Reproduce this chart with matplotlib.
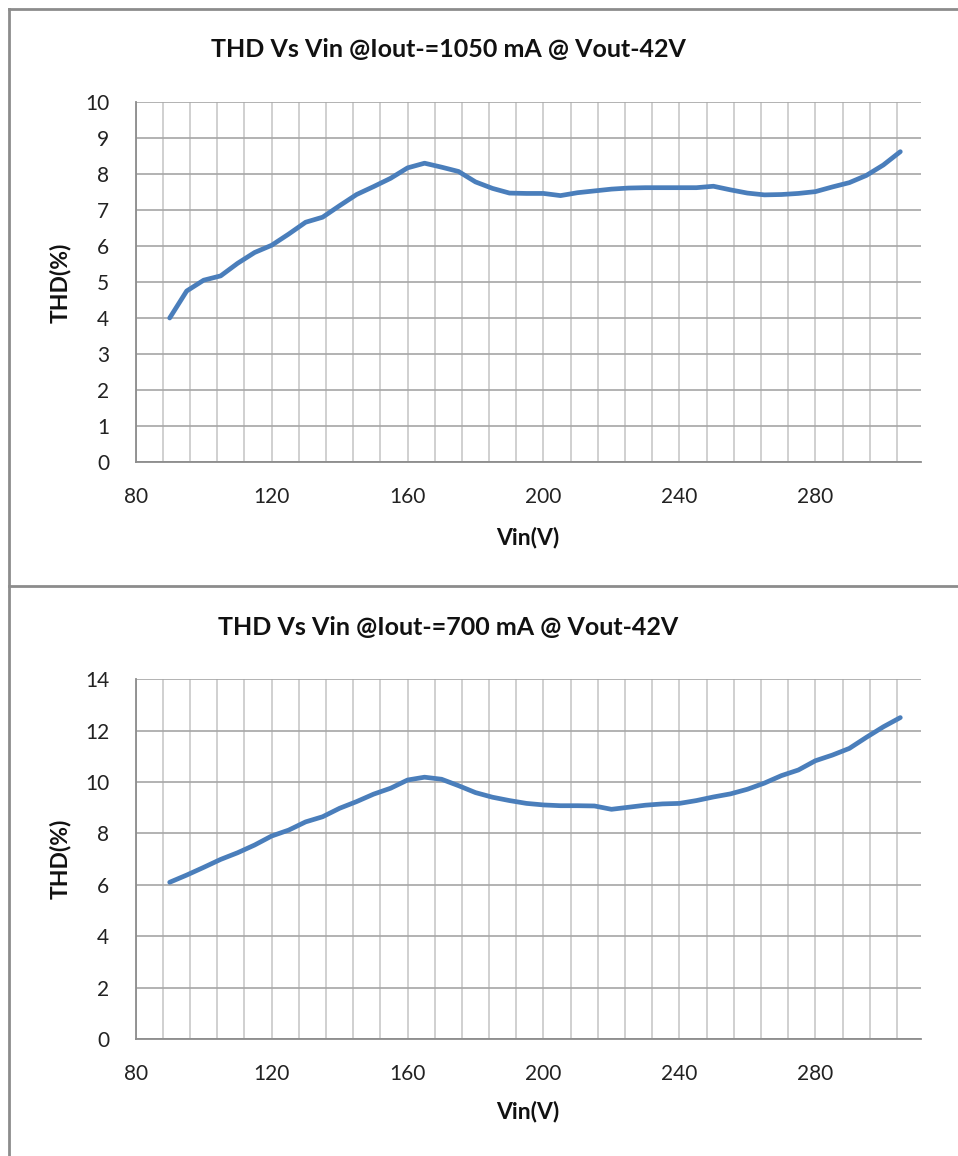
import matplotlib.pyplot as plt
from matplotlib.lines import Line2D

plt.rcParams['font.family'] = ['Lato', 'DejaVu Sans']

# measured points, Vin (V) -> THD (%)
vin = [90, 95, 100, 105, 110, 115, 120, 125, 130, 135, 140, 145, 150, 155,
       160, 165, 170, 175, 180, 185, 190, 195, 200, 205, 210, 215, 220, 225,
       230, 235, 240, 245, 250, 255, 260, 265, 270, 275, 280, 285, 290, 295,
       300, 305]

thd_1050 = [4.00, 4.75, 5.05, 5.17, 5.52, 5.82, 6.02, 6.33, 6.66, 6.80, 7.12,
            7.43, 7.65, 7.88, 8.17, 8.30, 8.19, 8.07, 7.78, 7.60, 7.47, 7.46,
            7.46, 7.40, 7.48, 7.53, 7.58, 7.61, 7.62, 7.62, 7.62, 7.62, 7.66,
            7.56, 7.47, 7.42, 7.43, 7.46, 7.51, 7.64, 7.76, 7.96, 8.25, 8.62]

thd_700 = [6.10, 6.38, 6.68, 6.99, 7.25, 7.55, 7.90, 8.13, 8.45, 8.65, 8.98,
           9.24, 9.53, 9.76, 10.08, 10.19, 10.11, 9.86, 9.59, 9.41, 9.28, 9.17,
           9.11, 9.08, 9.08, 9.07, 8.94, 9.02, 9.10, 9.15, 9.17, 9.28, 9.42,
           9.54, 9.72, 9.96, 10.25, 10.47, 10.83, 11.05, 11.31, 11.74, 12.15,
           12.51]

titles = ["THD Vs Vin @Iout-=1050 mA @ Vout-42V",
          "THD Vs Vin @Iout-=700 mA @ Vout-42V"]
x_ticks = [80, 120, 160, 200, 240, 280]
x_minor = list(range(80, 310, 8))

W, H = 958, 1156
fig = plt.figure(figsize=(W / 100, H / 100), dpi=100)

def px(x, y):
    return x / W, 1 - y / H

LINE_COLOR = '#4a7ebb'

def make_panel(rect, data, ymax, ystep, title, title_y, label_y, xlabel_y):
    ax = fig.add_axes(rect)
    ax.plot(vin, data, color=LINE_COLOR, lw=3.4, solid_capstyle='round',
            solid_joinstyle='round', zorder=3)
    ax.set_xlim(80, 311)
    ax.set_ylim(0, ymax)
    ax.set_xticks(x_ticks)
    ax.set_xticks(x_minor, minor=True)
    ax.set_yticks(range(0, ymax + 1, ystep))
    ax.grid(True, axis='x', which='both', color='#c8c8c8', lw=1.2, zorder=0)
    ax.grid(True, axis='y', which='major', color='#a6a6a6', lw=1.2, zorder=0)
    ax.tick_params(length=0, labelsize=15, colors='#222222', pad=18)
    ax.tick_params(axis='y', pad=19)
    ax.tick_params(which='minor', length=0)
    for s in ['top', 'right']:
        ax.spines[s].set_visible(False)
    for s in ['left', 'bottom']:
        ax.spines[s].set_color('#8c8c8c')
        ax.spines[s].set_linewidth(1.3)
    ax.set_axisbelow(True)

    fig.text(*px(448, title_y), title, ha='center', va='center',
             fontsize=18, fontweight='bold', color='#111111')
    fig.text(*px(60, label_y), "THD(%)", ha='center', va='center',
             rotation=90, fontsize=16.5, fontweight='bold', color='#111111')
    fig.text(*px(528, xlabel_y), "Vin(V)", ha='center', va='center',
             fontsize=16.5, fontweight='bold', color='#111111')
    return ax

make_panel([135.7 / W, 1 - 462 / H, 785 / W, 360 / H], thd_1050, 10, 1,
           titles[0], 50, 283, 538)
make_panel([135.7 / W, 1 - 1039 / H, 785 / W, 359.7 / H], thd_700, 14, 2,
           titles[1], 627, 859, 1112)

# chart frames
frame = dict(color='#8c8c8c', lw=2.0, transform=fig.transFigure)
fig.add_artist(Line2D([9 / W, 9 / W], [1 - 9 / H, 0], **frame))
fig.add_artist(Line2D([9 / W, 1], [1 - 9 / H, 1 - 9 / H], **frame))
fig.add_artist(Line2D([9 / W, 1], [1 - 585.5 / H, 1 - 585.5 / H], **frame))

fig.savefig('out.png', dpi=100)
